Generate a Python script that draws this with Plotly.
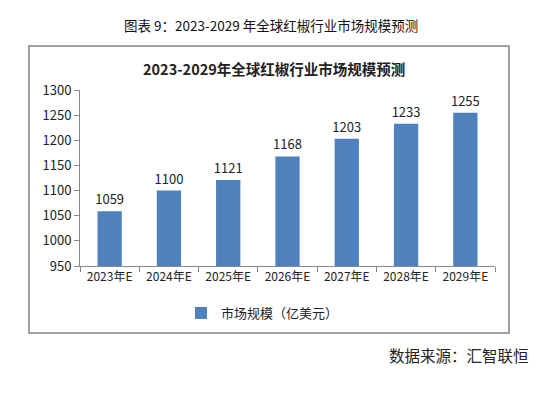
import plotly.graph_objects as go

categories = ["2023年E", "2024年E", "2025年E", "2026年E", "2027年E", "2028年E", "2029年E"]
values = [1059, 1100, 1121, 1168, 1203, 1233, 1255]
series_name = "市场规模（亿美元）"
y_ticks = [950, 1000, 1050, 1100, 1150, 1200, 1250, 1300]

W, H = 555, 405
L, R, T, B = 80, 60, 90, 139
pw, ph = W - L - R, H - T - B

def px(x):
    return (x - L) / pw

def py(y):
    return (H - B - y) / ph

font_cjk = "Noto Sans CJK SC, Noto Sans, sans-serif"

fig = go.Figure()
fig.add_trace(go.Bar(
    x=categories, y=values, name=series_name,
    marker=dict(color="#4F81BD", line=dict(width=0)),
    text=[str(v) for v in values], textposition="outside",
    textfont=dict(size=13, color="#222222", family=font_cjk),
    constraintext="none",
    cliponaxis=False, showlegend=True,
))

fig.update_layout(
    width=W, height=H,
    margin=dict(l=L, r=R, t=T, b=B),
    paper_bgcolor="white", plot_bgcolor="white",
    bargap=0.59,
    font=dict(family=font_cjk, size=13, color="#222222"),
    xaxis=dict(
        showline=True, linecolor="#888888", linewidth=1,
        ticks="outside", ticklen=5, tickcolor="#888888",
        tickson="boundaries", showgrid=False,
        tickfont=dict(size=12, color="#222222", family=font_cjk),
    ),
    yaxis=dict(
        range=[950, 1300], tickvals=y_ticks,
        showline=True, linecolor="#888888", linewidth=1,
        ticks="outside", ticklen=5, tickcolor="#888888",
        showgrid=False, zeroline=False,
        tickfont=dict(size=13, color="#222222", family=font_cjk),
    ),
    legend=dict(
        orientation="h", x=px(181), xanchor="left", y=py(313), yanchor="middle",
        font=dict(size=13, color="#222222", family=font_cjk),
        itemwidth=30,
    ),
    shapes=[
        dict(type="rect", xref="paper", yref="paper",
             x0=px(29), x1=px(509), y0=py(333), y1=py(46),
             line=dict(color="#A0A0A0", width=2), fillcolor="rgba(0,0,0,0)", layer="below"),
    ],
    annotations=[
        dict(text="图表 9：2023-2029 年全球红椒行业市场规模预测", xref="paper", yref="paper",
             x=px(271), y=py(25), xanchor="center", yanchor="middle", showarrow=False,
             font=dict(size=13.5, color="#111111", family=font_cjk)),
        dict(text="<b>2023-2029年全球红椒行业市场规模预测</b>", xref="paper", yref="paper",
             x=px(274), y=py(68), xanchor="center", yanchor="middle", showarrow=False,
             font=dict(size=14.5, color="#222222", family=font_cjk)),
        dict(text="数据来源：汇智联恒", xref="paper", yref="paper",
             x=px(531), y=py(355), xanchor="right", yanchor="middle", showarrow=False,
             font=dict(size=15.5, color="#222222", family=font_cjk)),
    ],
)

fig.write_html("out.html", config={"displayModeBar": False},
               post_script="document.body.style.margin='0px';")
